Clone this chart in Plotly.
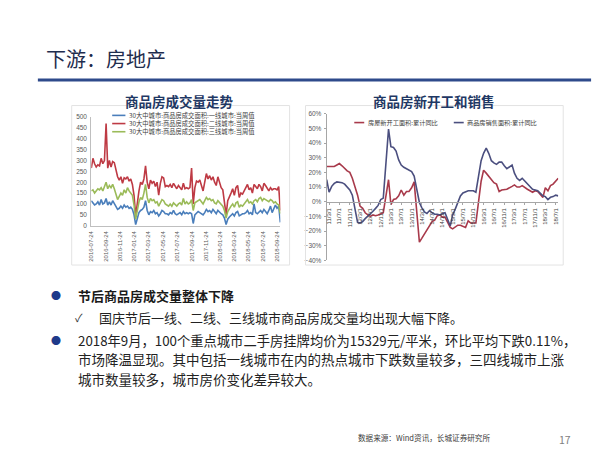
import plotly.graph_objects as go
import pandas as pd

W, H = 600, 456

# ---------------- data: left chart (weekly, 30 cities transaction area) ----------------
left_start = "2016-07-24"
tier1 = [115, 105, 95, 100, 110, 95, 120, 100, 105, 125, 95, 110, 95, 115, 100, 85, 75, 80, 90, 80,
         95, 85, 90, 80, 85, 75, 50, 5, 35, 60, 70, 75, 85, 115, 70, 50, 65, 60, 70, 55,
         60, 45, 55, 70, 65, 55, 55, 50, 60, 55, 70, 55, 50, 55, 60, 50, 65, 55, 60, 55,
         60, 55, 10, 50, 60, 65, 60, 55, 50, 60, 75, 65, 70, 60, 75, 65, 55, 70, 60, 55,
         50, 35, 5, 30, 40, 50, 55, 45, 60, 65, 45, 50, 55, 55, 60, 70, 55, 60, 50, 100,
         60, 55, 65, 70, 60, 75, 65, 55, 70, 90, 60, 75, 95, 80, 90, 15]
tier2 = [265, 310, 285, 270, 280, 275, 310, 285, 300, 470, 265, 300, 270, 295, 290, 260, 225, 210, 225, 195,
         220, 215, 225, 205, 215, 190, 140, 45, 110, 160, 200, 190, 215, 275, 200, 170, 210, 195, 205, 180,
         200, 140, 195, 225, 220, 180, 185, 180, 190, 175, 195, 180, 170, 185, 175, 165, 195, 170, 175, 170,
         175, 265, 100, 175, 205, 200, 210, 180, 160, 200, 240, 215, 230, 210, 225, 200, 185, 225, 200, 175,
         165, 110, 50, 115, 130, 150, 170, 140, 175, 185, 130, 150, 145, 160, 175, 190, 165, 175, 150, 190,
         180, 170, 190, 180, 160, 195, 185, 175, 160, 175, 165, 170, 170, 165, 180, 70]
tier3 = [160, 165, 150, 160, 170, 165, 175, 160, 185, 200, 170, 185, 175, 190, 170, 145, 120, 135, 150, 140,
         165, 150, 175, 160, 150, 140, 95, 30, 70, 110, 130, 120, 150, 190, 130, 105, 125, 115, 120, 105,
         110, 90, 105, 120, 115, 100, 95, 90, 100, 90, 105, 95, 90, 100, 105, 95, 125, 100, 110, 100,
         105, 120, 70, 105, 110, 115, 120, 110, 100, 115, 130, 120, 125, 115, 120, 105, 100, 115, 105, 95,
         90, 70, 35, 65, 80, 90, 100, 85, 105, 110, 85, 95, 90, 100, 110, 120, 105, 110, 100, 115,
         120, 110, 125, 130, 115, 125, 120, 115, 110, 120, 115, 105, 110, 100, 95, 55]
left_names = ["30大中城市:商品房成交面积:一线城市:当周值",
              "30大中城市:商品房成交面积:二线城市:当周值",
              "30大中城市:商品房成交面积:三线城市:当周值"]
left_colors = ["#4A7EBB", "#BE3A44", "#9BBB59"]

# ---------------- data: right chart (monthly cumulative YoY, %) ----------------
years = [2011, 2012, 2013, 2014, 2015, 2016, 2017, 2018]
new_starts = {
    2011: [24, 24, 23.5, 24, 25, 26, 24.5, 22.5, 21, 20, 16],
    2012: [4.5, -3, -4.5, -7.5, -9, -10, -9, -9.5, -9, -8.5, -7.5],
    2013: [15, -2, 1.5, 2, 4, 8, 4.5, 7, 7, 9.5, 13.5],
    2014: [-27.5, -25, -22, -19.5, -16.5, -13.5, -12.5, -9.5, -9, -10.5, -10.5],
    2015: [-17.5, -18.5, -17.5, -16, -16, -16.5, -17.5, -13, -14.5, -14.5, -14.5],
    2016: [14, 21.5, 19.5, 17.5, 15, 13, 12, 7, 8, 8, 8.5],
    2017: [10.5, 11.5, 10, 10, 11, 9.5, 8.5, 7.5, 6.5, 7.5, 7],
    2018: [3, 9.5, 7.5, 11, 12, 14, 16],
}
sales = {
    2011: [15, 6.5, 10.5, 12.5, 13.5, 13.5, 13, 12, 10, 8, 4.5],
    2012: [-14, -14.5, -13.5, -11.5, -10, -8.5, -6.5, -4.5, -2.5, 1.5, 2.5],
    2013: [49.5, 37.5, 37, 34.5, 28.5, 25, 23.5, 22.5, 21, 20.5, 17.5],
    2014: [-0.5, -4, -7, -8, -6, -7.5, -8.5, -8.5, -9, -8, -7.5],
    2015: [-16.5, -9, -5, -0.5, 4, 6, 7, 7.5, 7.5, 7.5, 6.5],
    2016: [28, 33, 36.5, 33, 28, 26.5, 25.5, 27, 27, 24.5, 22.5],
    2017: [25, 19.5, 16, 14.5, 16, 14, 12.5, 10.5, 8.5, 8, 7.5],
    2018: [4, 3.5, 1.5, 3, 3.5, 4.5, 4],
}
right_names = ["房屋新开工面积:累计同比", "商品房销售面积:累计同比"]
right_colors = ["#A83A4B", "#4B4F7F"]

right_dates, ns_vals, sa_vals = [], [], []
for y in years:
    for k, v in enumerate(new_starts[y]):
        right_dates.append(f"{y}-{k + 2:02d}-01")
        ns_vals.append(v)
        sa_vals.append(sales[y][k])

left_dates = pd.date_range(left_start, periods=len(tier1), freq="7D")


def px(x):
    return x / W


def py(y):
    return 1 - y / H


CJK = "Noto Sans CJK SC, DejaVu Sans"

fig = go.Figure()
for vals, name, col in zip([tier1, tier2, tier3], left_names, left_colors):
    fig.add_trace(go.Scatter(x=left_dates, y=vals, name=name, mode="lines",
                             line=dict(color=col, width=1.6), xaxis="x", yaxis="y",
                             showlegend=False))
for vals, name, col in zip([ns_vals, sa_vals], right_names, right_colors):
    fig.add_trace(go.Scatter(x=right_dates, y=vals, name=name, mode="lines",
                             line=dict(color=col, width=1.6), xaxis="x2", yaxis="y2",
                             showlegend=False))

axis_font = dict(family="Liberation Sans, Arial", size=6.5, color="#595959")

fig.update_layout(
    width=W, height=H, margin=dict(l=0, r=0, t=0, b=0),
    paper_bgcolor="white", plot_bgcolor="rgba(0,0,0,0)",
    xaxis=dict(domain=[px(80.7), px(270.7)], type="date",
               range=["2016-07-24", "2018-10-07"], tick0="2016-07-24", dtick="M2",
               tickformat="%Y-%m-%d", tickangle=-90, tickfont=dict(axis_font, size=6),
               showline=True, linecolor="#BFBFBF", showgrid=False, zeroline=False,
               ticks="", anchor="y", ticklabelstandoff=2),
    yaxis=dict(domain=[py(217), py(106.7)], range=[0, 500], dtick=50,
               tickfont=axis_font, showline=True, linecolor="#BFBFBF",
               showgrid=False, zeroline=False, ticks="", anchor="x", ticklabelstandoff=2),
    xaxis2=dict(domain=[px(317.3), px(550)], type="date",
                range=["2011-02-01", "2018-08-01"], tick0="2011-03-01", dtick="M4",
                tickformat="%y/%-m/%-d", tickangle=-90,
                tickfont=dict(axis_font, size=6, color="#404040"),
                showline=True, linecolor="#A6A6A6", showgrid=False, zeroline=False,
                ticks="outside", ticklen=2, tickcolor="#A6A6A6",
                anchor="free", position=py(192.7), ticklabelstandoff=1),
    yaxis2=dict(domain=[py(252.3), py(103.3)], range=[-40, 60], dtick=10,
                ticksuffix="%", tickfont=axis_font, showline=True, linecolor="#A6A6A6",
                showgrid=False, zeroline=False, ticks="outside", ticklen=2,
                tickcolor="#A6A6A6", anchor="x2", ticklabelstandoff=1),
)

shapes = []
ann = []

# header rule
shapes.append(dict(type="line", xref="paper", yref="paper", x0=px(27), x1=px(583),
                   y0=py(69), y1=py(69), line=dict(color="#2E4A8B", width=3)))
# chart frames
for x0, x1 in [(61, 280), (296, 555)]:
    shapes.append(dict(type="rect", xref="paper", yref="paper", x0=px(x0), x1=px(x1),
                       y0=py(257), y1=py(95), line=dict(color="#E3E3E3", width=1)))

# left legend
for i, (name, col) in enumerate(zip(left_names, left_colors)):
    yy = 105 + i * 8.3
    shapes.append(dict(type="line", xref="paper", yref="paper", x0=px(101.7), x1=px(115),
                       y0=py(yy), y1=py(yy), line=dict(color=col, width=1.6)))
    ann.append(dict(text=name, x=px(116.7), y=py(yy), xref="paper", yref="paper",
                    xanchor="left", yanchor="middle", showarrow=False,
                    font=dict(family=CJK, size=6.3, color="#404040")))
# right legend
for (lx0, tx), name, col in zip([(345, 356.7), (445, 456.7)], right_names, right_colors):
    shapes.append(dict(type="line", xref="paper", yref="paper", x0=px(lx0), x1=px(lx0 + 10),
                       y0=py(112.3), y1=py(112.3), line=dict(color=col, width=1.6)))
    ann.append(dict(text=name, x=px(tx), y=py(112.3), xref="paper", yref="paper",
                    xanchor="left", yanchor="middle", showarrow=False,
                    font=dict(family=CJK, size=6.2, color="#404040")))


def text(t, x, y, size, color="#222222", anchor="left", bold=False):
    ann.append(dict(text=f"<b>{t}</b>" if bold else t, x=px(x), y=py(y), xref="paper",
                    yref="paper", xanchor=anchor, yanchor="middle", showarrow=False,
                    font=dict(family=CJK, size=size, color=color)))


text("下游：房地产", 33, 47, 20, color="#1F2D4E")
text("商品房成交量走势", 169, 90, 13.5, color="#1F3864", anchor="center", bold=True)
text("商品房新开工和销售", 425, 90, 13.5, color="#1F3864", anchor="center", bold=True)

text("●", 45, 288, 10, color="#1F3A8A", anchor="center")
text("节后商品房成交量整体下降", 65, 288, 13, color="#1A1A1A", bold=True)
text("✓", 68, 310, 11, color="#333333", anchor="center")
text("国庆节后一线、二线、三线城市商品房成交量均出现大幅下降。", 86, 310, 13)
text("●", 45, 334, 10, color="#1F3A8A", anchor="center")
text("2018年9月，100个重点城市二手房挂牌均价为15329元/平米，环比平均下跌0.11%，", 65, 334, 13.3)
text("市场降温显现。其中包括一线城市在内的热点城市下跌数量较多，三四线城市上涨", 65, 352.5, 13.5)
text("城市数量较多，城市房价变化差异较大。", 65, 372.5, 13.5)

text("数据来源：Wind资讯，长城证券研究所", 347, 432, 7.6, color="#404040")
text("17", 557, 434, 10.5, color="#7F7F7F", anchor="center")

fig.update_layout(shapes=shapes, annotations=ann)
fig.write_html("out.html")
